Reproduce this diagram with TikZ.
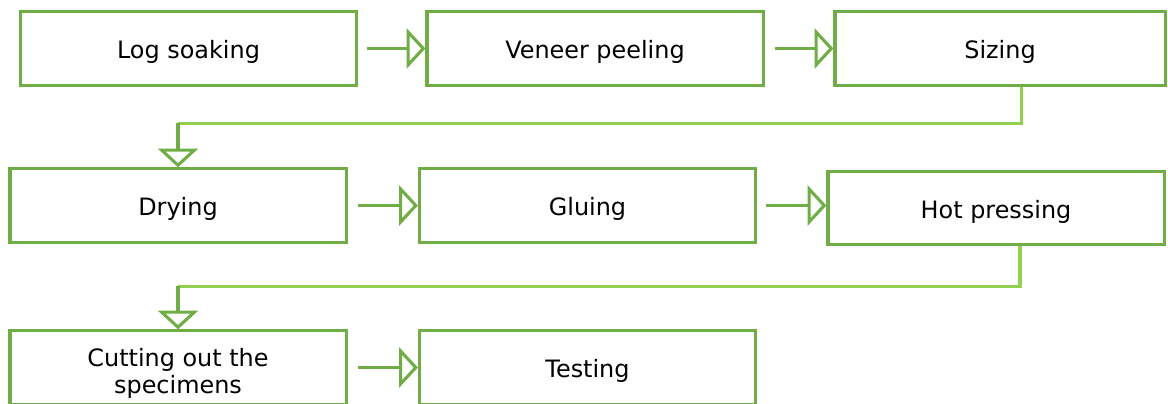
\documentclass[tikz,border=0pt]{standalone}
\usepackage{fontspec}
\setmainfont{DejaVu Sans}
\usetikzlibrary{arrows.meta}
\definecolor{boxgreen}{HTML}{70AD47}
\definecolor{linegreen}{HTML}{92D050}
\begin{document}
\begin{tikzpicture}[x=0.025cm,y=-0.025cm,
  stepbox/.style={draw=boxgreen,line width=2.2pt,minimum width=8.4cm,minimum height=1.83cm,
    inner sep=2pt,font=\fontsize{17}{19.2}\selectfont},
  oneline/.style={text height=17.6pt,text depth=3pt},
  flow/.style={draw=boxgreen,line width=2.2pt,-{Triangle[open,length=0.47cm,width=1.0cm]}},
  elbow/.style={draw=linegreen,line width=2.2pt}]
\useasboundingbox (0,0) rectangle (1168,403);
% first row
\node[stepbox,oneline] (soak) at (188.5,48.5) {Log soaking};
\node[stepbox,oneline] (peel) at (595,48.5) {Veneer peeling};
\node[stepbox,oneline,minimum width=8.25cm] (sizing) at (1000,48.5) {Sizing};
% second row
\node[stepbox,oneline] (dry) at (178,205.5) {Drying};
\node[stepbox,oneline] (glue) at (587.5,205.5) {Gluing};
\node[stepbox,oneline] (press) at (996,208) {Hot pressing};
% third row
\node[stepbox,align=center] (cut) at (178,367.5) {\rule{0pt}{21.5pt}Cutting out the\\specimens};
\node[stepbox,oneline] (test) at (587.5,367.5) {Testing};
% arrows in the rows
\draw[flow] ([xshift=0.23cm]soak.east) -- (peel.west);
\draw[flow] ([xshift=0.27cm]peel.east) -- (sizing.west);
\draw[flow] ([xshift=0.27cm]dry.east) -- (glue.west);
\draw[flow] ([xshift=0.23cm]glue.east) -- (glue.east -| press.west);
\draw[flow] ([xshift=0.27cm]cut.east) -- (test.west);
% from one row to the next
\path (dry.north) ++(0,-44) coordinate (bend1);
\path (cut.north) ++(0,-43) coordinate (bend2);
\draw[elbow] ([xshift=0.53cm]sizing.south) |- (bend1);
\draw[flow] (bend1) -- (dry.north);
\draw[elbow] ([xshift=0.6cm]press.south) |- (bend2);
\draw[flow] (bend2) -- (cut.north);
\end{tikzpicture}
\end{document}
